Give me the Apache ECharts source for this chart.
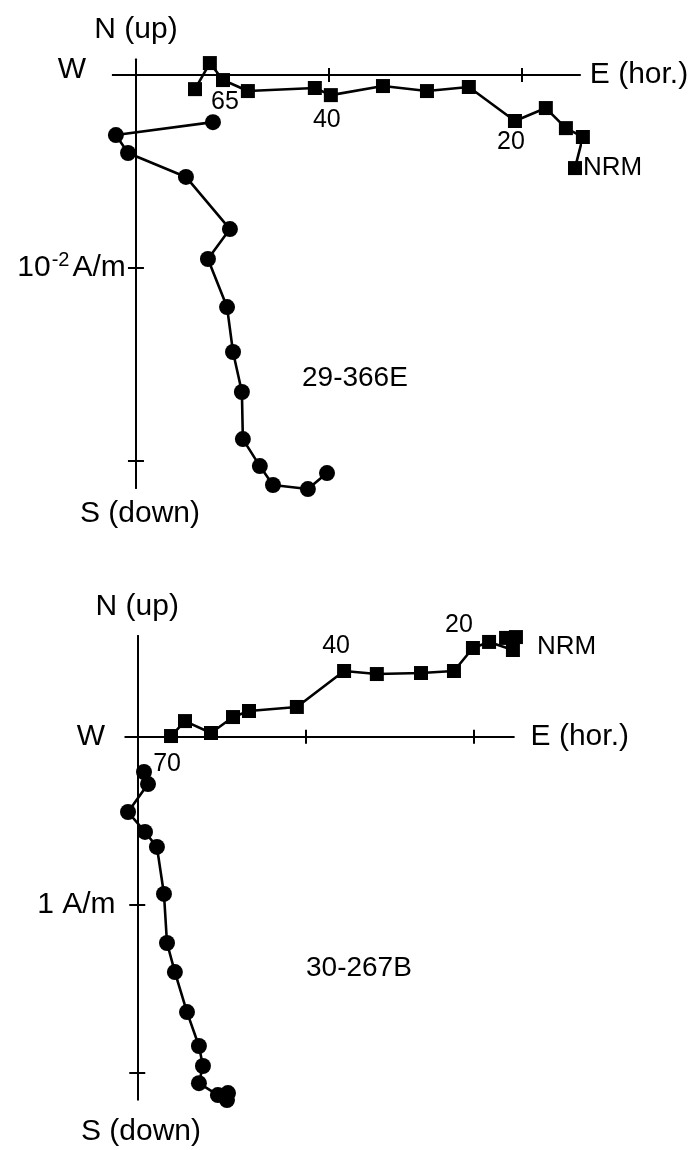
<!DOCTYPE html>
<html>
<head>
<meta charset="utf-8">
<script src="https://cdn.jsdelivr.net/npm/echarts@6/dist/echarts.min.js"></script>
<style>
html,body{margin:0;padding:0;background:#fff;}
#c{width:697px;height:1150px;}
</style>
</head>
<body>
<div id="c"></div>
<script>
// ---------- DATA (units: one tick of each diagram) ----------
// Specimen 29-366E (tick = 10^-2 A/m)
const topSquareE = [2.275, 2.316, 2.228, 2.124, 1.964, 1.725, 1.508, 1.280, 1.010, 0.927, 0.580, 0.451, 0.383, 0.306];
const topSquareN = [-0.482, -0.321, -0.275, -0.171, -0.238, -0.062, -0.083, -0.057, -0.104, -0.067, -0.083, -0.026, 0.062, -0.073];
const topSquareLabels = ['NRM', '', '', '', '20', '', '', '', '40', '', '', '65', '', ''];
const topCircleE = [0.990, 0.891, 0.710, 0.642, 0.554, 0.549, 0.503, 0.472, 0.373, 0.487, 0.259, -0.041, -0.104, 0.399];
const topCircleDown = [2.062, 2.145, 2.124, 2.026, 1.886, 1.642, 1.435, 1.202, 0.953, 0.798, 0.528, 0.404, 0.311, 0.244];
const topTicks = [1, 2];
const topUnitLabel = '10^-2 A/m';
const topName = '29-366E';

// Specimen 30-267B (tick = 1 A/m)
const botSquareE = [2.254, 2.195, 2.236, 2.094, 1.998, 1.885, 1.689, 1.426, 1.231, 0.950, 0.665, 0.570, 0.439, 0.284, 0.201];
const botSquareN = [0.593, 0.588, 0.516, 0.564, 0.528, 0.391, 0.379, 0.373, 0.391, 0.177, 0.153, 0.117, 0.022, 0.093, 0.004];
const botSquareLabels = ['NRM', '', '', '', '20', '', '', '', '40', '', '', '', '', '', '70'];
const botCircleE = [0.534, 0.540, 0.480, 0.367, 0.391, 0.367, 0.296, 0.224, 0.177, 0.159, 0.117, 0.046, -0.055, 0.064, 0.040];
const botCircleDown = [2.163, 2.121, 2.133, 2.062, 1.960, 1.841, 1.639, 1.401, 1.228, 0.936, 0.656, 0.567, 0.448, 0.282, 0.210];
const botTicks = [1, 2];
const botUnitLabel = '1 A/m';
const botName = '30-267B';

const axisNames = { east: 'E (hor.)', north: 'N (up)', west: 'W', south: 'S (down)' };

// ---------- STYLE / LAYOUT ----------
const FONT = '"Liberation Sans", Arial, sans-serif';
const BIG = 30;
const ID = 28;
const SMALL = 25;

const panels = [
  { grid: { left: 112.8, top: 59.6, width: 467, height: 428.5 },
    xMin: -0.12, xMax: 2.3, yMin: -2.14, yMax: 0.08,
    sqE: topSquareE, sqN: topSquareN, sqL: topSquareLabels,
    ciE: topCircleE, ciD: topCircleDown, ticks: topTicks, unit: topUnitLabel,
    labelCfg: {
      'NRM': { position: 'right', distance: 1, offset: [0, 0], fontSize: 26 },
      '20': { position: 'bottom', distance: 2, offset: [-4, 0] },
      '40': { position: 'bottom', distance: 5, offset: [-4, 0] },
      '65': { position: 'bottom', distance: 3, offset: [2, 0] }
    },
    nGap: 15, eGap: 10, unitMargin: -13, unitOffsetY: 2 },
  { grid: { left: 125.5, top: 635.9, width: 388.1, height: 463.7 },
    xMin: -0.07, xMax: 2.24, yMin: -2.16, yMax: 0.6,
    sqE: botSquareE, sqN: botSquareN, sqL: botSquareLabels,
    ciE: botCircleE, ciD: botCircleDown, ticks: botTicks, unit: botUnitLabel,
    labelCfg: {
      'NRM': { position: 'right', distance: 14, offset: [0, 10], fontSize: 26 },
      '20': { position: 'top', distance: 3, offset: [-14, 0] },
      '40': { position: 'top', distance: 5, offset: [-8, 0] },
      '70': { position: 'bottom', distance: 9, offset: [-4, 0] }
    },
    nGap: 14, eGap: 17, unitMargin: 10, unitOffsetY: -6 }
];

const lineBlack = { color: '#000', width: 2 };
const grids = [], xAxes = [], yAxes = [], series = [];

panels.forEach((p, g) => {
  grids.push(Object.assign({ containLabel: false, outerBoundsMode: 'none' }, p.grid));
  const xBase = {
    type: 'value', gridIndex: g, min: p.xMin, max: p.xMax,
    axisLine: { show: true, onZero: true, lineStyle: lineBlack },
    axisTick: { show: true, customValues: p.ticks, length: 7, inside: false, lineStyle: lineBlack },
    axisLabel: { show: false }, splitLine: { show: false }
  };
  xAxes.push(Object.assign({}, xBase, {
    position: 'bottom', name: axisNames.east, nameLocation: 'end', nameGap: p.eGap,
    nameTextStyle: { fontSize: BIG, color: '#000', fontFamily: FONT, align: 'left', verticalAlign: 'middle' }
  }));
  xAxes.push(Object.assign({}, xBase, { position: 'top' }));

  const negTicks = p.ticks.map(t => -t);
  const yBase = {
    type: 'value', gridIndex: g, min: p.yMin, max: p.yMax,
    axisLine: { show: true, onZero: true, lineStyle: lineBlack },
    axisTick: { show: true, customValues: negTicks, length: 8, inside: false, lineStyle: lineBlack },
    splitLine: { show: false }
  };
  const unit = p.unit;
  yAxes.push(Object.assign({}, yBase, {
    position: 'left', name: axisNames.north, nameLocation: 'end', nameGap: p.nGap,
    nameTextStyle: { fontSize: BIG, color: '#000', fontFamily: FONT, align: 'center', verticalAlign: 'bottom' },
    axisLabel: {
      show: true, customValues: [negTicks[0]], margin: p.unitMargin, color: '#000', fontFamily: FONT, fontSize: BIG,
      formatter: function () {
        if (unit.indexOf('^') >= 0) {
          const m = unit.match(/^(\d+)\^(-?\d+)\s*(.*)$/);
          return '{n|' + m[1] + '}{s|' + m[2] + '}{n|' + m[3] + '}';
        }
        return '{n|' + unit + '}';
      },
      rich: {
        n: { fontSize: BIG, fontFamily: FONT, color: '#000' },
        s: { fontSize: 20, fontFamily: FONT, color: '#000', padding: [0, 3, 15, 1] }
      }
    }
  }));
  yAxes.push(Object.assign({}, yBase, { position: 'right', axisLabel: { show: false } }));

  const xi = g * 2, yi = g * 2;
  series.push({
    type: 'line', xAxisIndex: xi, yAxisIndex: yi, clip: false, animation: false,
    symbol: 'rect', symbolSize: 14, showAllSymbol: true,
    lineStyle: { color: '#000', width: 2.6 }, itemStyle: { color: '#000' },
    emphasis: { disabled: true },
    data: p.sqE.map((e, i) => {
      const name = p.sqL[i];
      const item = { value: [e, p.sqN[i]], name: name };
      if (name) {
        const c = p.labelCfg[name];
        item.label = {
          show: true, formatter: name, position: c.position, distance: c.distance, offset: c.offset,
          fontSize: c.fontSize || SMALL, fontFamily: FONT, color: '#000'
        };
      }
      return item;
    })
  });
  series.push({
    type: 'line', xAxisIndex: xi, yAxisIndex: yi, clip: false, animation: false,
    symbol: 'circle', symbolSize: 16, showAllSymbol: true,
    lineStyle: { color: '#000', width: 2.6 }, itemStyle: { color: '#000' },
    emphasis: { disabled: true },
    data: p.ciE.map((e, i) => [e, -p.ciD[i]])
  });
});

const txt = (x, y, text, align, size) => ({
  type: 'text', x: x, y: y,
  style: { text: text, fontSize: size, fontFamily: FONT, fill: '#000', align: align, verticalAlign: 'middle' }
});

const chart = echarts.init(document.getElementById('c'), null, { renderer: 'canvas' });
chart.setOption({
  backgroundColor: '#fff',
  animation: false,
  grid: grids,
  xAxis: xAxes,
  yAxis: yAxes,
  series: series,
  graphic: [
    txt(86, 70, axisNames.west, 'right', BIG),
    txt(140, 514, axisNames.south, 'center', BIG),
    txt(302, 378, topName, 'left', ID),
    txt(105, 737, axisNames.west, 'right', BIG),
    txt(141, 1132, axisNames.south, 'center', BIG),
    txt(306, 968, botName, 'left', ID)
  ]
});
</script>
</body>
</html>
